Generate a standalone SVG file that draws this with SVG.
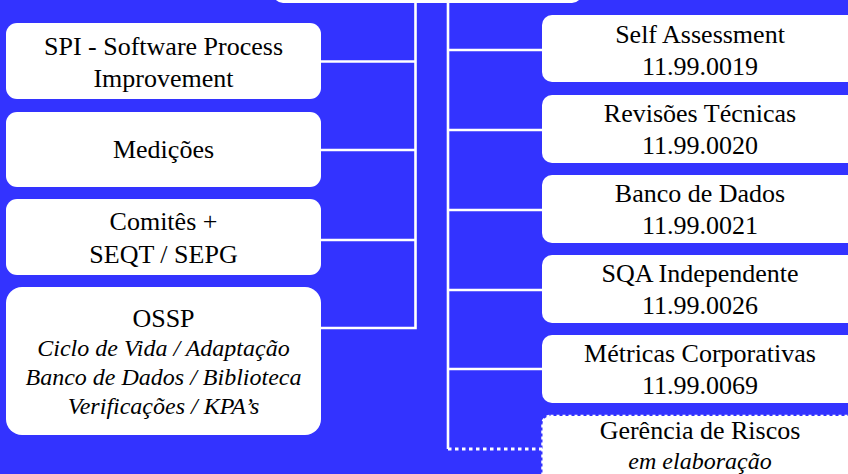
<svg xmlns="http://www.w3.org/2000/svg" width="848" height="474" viewBox="0 0 848 474">
  <defs>
    <rect id="card" width="315" height="76" rx="11"/>
  </defs>
  <rect x="0" y="0" width="848" height="474" fill="#3333ff"/>

  <g id="connectors" stroke="#ffffff" stroke-width="2.6" fill="none">
    <!-- left trunk and branches -->
    <polyline points="415.5,2 415.5,328 321,328"/>
    <line x1="321" y1="61.5" x2="415.5" y2="61.5"/>
    <line x1="321" y1="150" x2="415.5" y2="150"/>
    <line x1="321" y1="240" x2="415.5" y2="240"/>
    <!-- right trunk and branches -->
    <line x1="448" y1="2" x2="448" y2="449"/>
    <line x1="448" y1="50" x2="542" y2="50"/>
    <line x1="448" y1="130" x2="542" y2="130"/>
    <line x1="448" y1="210" x2="542" y2="210"/>
    <line x1="448" y1="290" x2="542" y2="290"/>
    <line x1="448" y1="369" x2="542" y2="369"/>
    <line x1="448" y1="449" x2="542" y2="449" stroke-width="3" stroke-dasharray="3.5 3.5"/>
  </g>

  <g id="root">
    <rect x="273" y="-40" width="309" height="43" rx="10" fill="#ffffff"/>
  </g>

  <g id="spi">
    <rect x="6" y="23" width="315" height="76" rx="11" fill="#ffffff"/>
    <text x="163.5" y="55" text-anchor="middle" font-family="Liberation Serif" font-size="26">SPI - Software Process</text>
    <text x="163.5" y="86.5" text-anchor="middle" font-family="Liberation Serif" font-size="26">Improvement</text>
  </g>
  <g id="medicoes">
    <rect x="6" y="112" width="315" height="75" rx="11" fill="#ffffff"/>
    <text x="163.5" y="158" text-anchor="middle" font-family="Liberation Serif" font-size="26">Medições</text>
  </g>
  <g id="comites">
    <rect x="6" y="199" width="315" height="76" rx="11" fill="#ffffff"/>
    <text x="163.5" y="230" text-anchor="middle" font-family="Liberation Serif" font-size="26">Comitês +</text>
    <text x="163.5" y="262.5" text-anchor="middle" font-family="Liberation Serif" font-size="26">SEQT / SEPG</text>
  </g>
  <g id="ossp">
    <rect x="6" y="287" width="315" height="148" rx="16" fill="#ffffff"/>
    <text x="163.5" y="326.5" text-anchor="middle" font-family="Liberation Serif" font-size="26">OSSP</text>
    <text x="163.5" y="356" text-anchor="middle" font-family="Liberation Serif" font-size="24" font-style="italic">Ciclo de Vida / Adaptação</text>
    <text x="163.5" y="385" text-anchor="middle" font-family="Liberation Serif" font-size="24" font-style="italic">Banco de Dados / Biblioteca</text>
    <text x="163.5" y="414" text-anchor="middle" font-family="Liberation Serif" font-size="24" font-style="italic">Verificações / KPA’s</text>
  </g>

  <g id="self-assessment">
    <rect x="542" y="15" width="316" height="67" rx="10" fill="#ffffff"/>
    <text x="700" y="43" text-anchor="middle" font-family="Liberation Serif" font-size="26">Self Assessment</text>
    <text x="700" y="75" text-anchor="middle" font-family="Liberation Serif" font-size="26">11.99.0019</text>
  </g>
  <g id="revisoes-tecnicas">
    <rect x="542" y="95" width="316" height="68" rx="10" fill="#ffffff"/>
    <text x="700" y="122" text-anchor="middle" font-family="Liberation Serif" font-size="26">Revisões Técnicas</text>
    <text x="700" y="154" text-anchor="middle" font-family="Liberation Serif" font-size="26">11.99.0020</text>
  </g>
  <g id="banco-de-dados">
    <rect x="542" y="175" width="316" height="68" rx="10" fill="#ffffff"/>
    <text x="700" y="202" text-anchor="middle" font-family="Liberation Serif" font-size="26">Banco de Dados</text>
    <text x="700" y="234" text-anchor="middle" font-family="Liberation Serif" font-size="26">11.99.0021</text>
  </g>
  <g id="sqa-independente">
    <rect x="542" y="255" width="316" height="68" rx="10" fill="#ffffff"/>
    <text x="700" y="282" text-anchor="middle" font-family="Liberation Serif" font-size="26">SQA Independente</text>
    <text x="700" y="314" text-anchor="middle" font-family="Liberation Serif" font-size="26">11.99.0026</text>
  </g>
  <g id="metricas-corporativas">
    <rect x="542" y="335" width="316" height="68" rx="10" fill="#ffffff"/>
    <text x="700" y="362" text-anchor="middle" font-family="Liberation Serif" font-size="26">Métricas Corporativas</text>
    <text x="700" y="394" text-anchor="middle" font-family="Liberation Serif" font-size="26">11.99.0069</text>
  </g>
  <g id="gerencia-de-riscos">
    <rect x="542.5" y="416" width="316" height="68" rx="8" fill="#ffffff" stroke="#ffffff" stroke-width="2.5" stroke-dasharray="3 3"/>
    <text x="700" y="439" text-anchor="middle" font-family="Liberation Serif" font-size="26">Gerência de Riscos</text>
    <text x="700" y="469" text-anchor="middle" font-family="Liberation Serif" font-size="24" font-style="italic">em elaboração</text>
  </g>
</svg>
